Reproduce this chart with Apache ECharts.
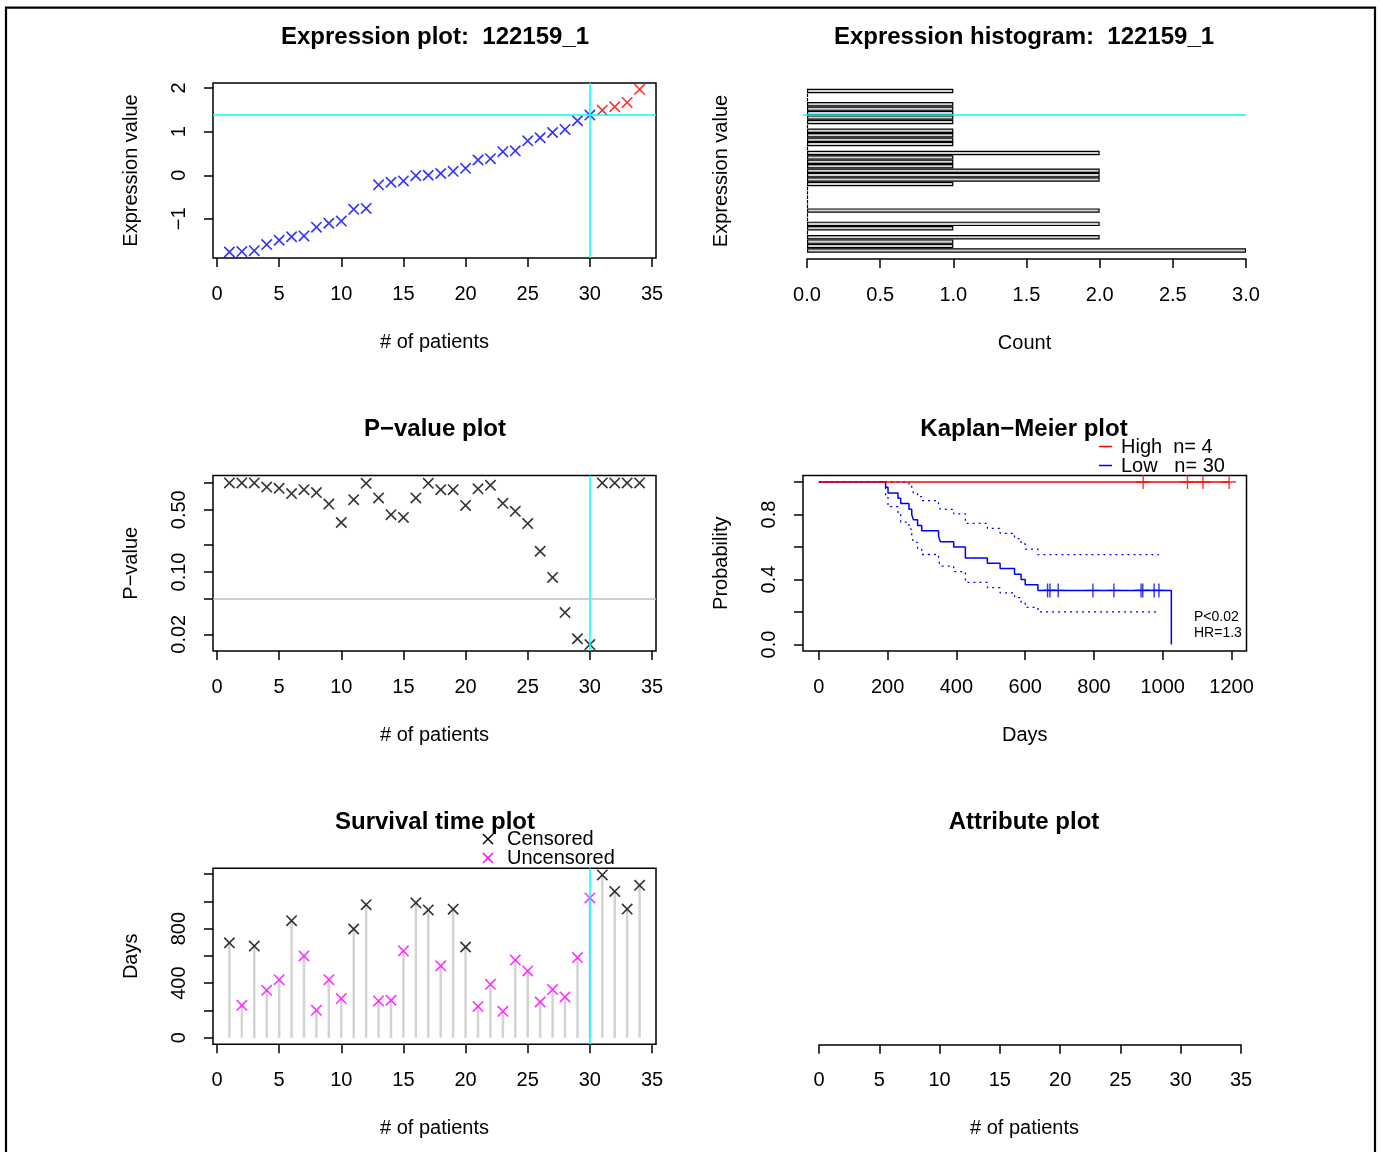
<!DOCTYPE html>
<html>
<head>
<meta charset="utf-8">
<script src="https://cdn.jsdelivr.net/npm/echarts@6/dist/echarts.min.js"></script>
<style>
  html, body { margin: 0; padding: 0; background: #fff; }
  #chart { width: 1383px; height: 1152px; }
</style>
</head>
<body>
<div id="chart"></div>
<script>
// ---- data -------------------------------------------------------------
// expression of probe 122159_1 for 34 patients, sorted ascending
const exprValues = [-1.76, -1.75, -1.73, -1.59, -1.49, -1.41, -1.39, -1.19, -1.10, -1.05,
                    -0.78, -0.76, -0.22, -0.16, -0.13, -0.01, 0.00, 0.04, 0.09, 0.16,
                    0.35, 0.38, 0.54, 0.56, 0.79, 0.86, 0.98, 1.05, 1.25, 1.38,
                    1.49, 1.57, 1.67, 1.97];
// patients 1..cutoffPatient form the "Low" group, the rest "High"
const cutoffPatient = 30;

// log-rank p-value for every possible cut point
const pValues = [1.0, 1.0, 1.0, 0.90, 0.87, 0.76, 0.84, 0.78, 0.58, 0.36,
                 0.65, 0.99, 0.68, 0.44, 0.41, 0.68, 0.99, 0.84, 0.84, 0.56,
                 0.86, 0.94, 0.59, 0.48, 0.35, 0.171, 0.087, 0.035, 0.0178, 0.0153,
                 1.0, 1.0, 1.0, 1.0];
const pThreshold = 0.05;

// histogram counts per expression bin, lowest bin first
const histCounts = [3, 1, 1, 2, 0, 1, 2, 0, 0, 2, 0, 0, 0, 0, 0, 1, 2, 2, 2, 1,
                    1, 1, 2, 0, 1, 1, 1, 1, 0, 1, 1, 1, 1, 1, 0, 0, 1];

// survival time (days) and censoring flag (1 = censored) per patient
const survDays = [696, 238, 672, 348, 426, 858, 600, 201, 426, 287,
                  797, 975, 270, 275, 637, 989, 937, 527, 942, 665,
                  230, 392, 194, 569, 490, 262, 353, 299, 588, 1025,
                  1193, 1072, 943, 1117];
const survCensored = [1, 0, 1, 0, 0, 1, 0, 0, 0, 0,
                      1, 1, 0, 0, 0, 1, 1, 0, 1, 1,
                      0, 0, 0, 0, 0, 0, 0, 0, 0, 0,
                      1, 1, 1, 1];

// Kaplan-Meier estimate and 95% band for the Low group
const kmLowTime  = [0, 194, 201, 230, 238, 262, 270, 275, 287, 299, 348, 353, 392, 426, 490, 527, 569, 588, 600, 637, 1025];
const kmLowSurv  = [1, 0.967, 0.933, 0.900, 0.867, 0.833, 0.800, 0.767, 0.733, 0.700, 0.667, 0.633, 0.600, 0.533, 0.500, 0.467, 0.433, 0.400, 0.367, 0.333, 0];
const kmLowUpper = [1, 1, 1, 1, 0.997, 0.978, 0.957, 0.934, 0.910, 0.885, 0.859, 0.832, 0.804, 0.745, 0.715, 0.684, 0.652, 0.620, 0.587, 0.553];
const kmLowLower = [1, 0.905, 0.848, 0.799, 0.753, 0.710, 0.669, 0.629, 0.591, 0.554, 0.518, 0.482, 0.448, 0.382, 0.350, 0.318, 0.288, 0.258, 0.229, 0.201];
// High group: no events, survival stays at 1
const kmHighTime = [0, 1193];
const kmHighSurv = [1, 1];
const kmPText = 'P<0.02';
const kmHRText = 'HR=1.3';

// tick values
const patientTicks = [0, 5, 10, 15, 20, 25, 30, 35];
const exprTicks = [-1, 0, 1, 2];
const countTicks = [0, 0.5, 1, 1.5, 2, 2.5, 3];
const pTicks = [0.02, 0.05, 0.1, 0.2, 0.5, 1];
const pLabels = [0.02, 0.1, 0.5];
const probTicks = [0, 0.2, 0.4, 0.6, 0.8, 1];
const probLabels = [0, 0.4, 0.8];
const kmDayTicks = [0, 200, 400, 600, 800, 1000, 1200];
const dayTicks = [0, 200, 400, 600, 800, 1000, 1200];
const dayLabels = [0, 400, 800];

// ---- derived series -----------------------------------------------------
const nLow = cutoffPatient;
const nHigh = exprValues.length - cutoffPatient;
const threshold = exprValues[cutoffPatient - 1];

function stepValue(times, surv, t) {
  let s = surv[0];
  for (let i = 0; i < times.length; i++) if (times[i] <= t) s = surv[i];
  return s;
}
const lowCensorTimes = survDays.filter((d, i) => i < cutoffPatient && survCensored[i] === 1);
const highCensorTimes = survDays.filter((d, i) => i >= cutoffPatient && survCensored[i] === 1);
const bandEnd = Math.max.apply(null, lowCensorTimes);
const nBand = kmLowUpper.length;
const upperBand = kmLowUpper.map((v, i) => [kmLowTime[i], v]).concat([[bandEnd, kmLowUpper[nBand - 1]]]);
const lowerBand = kmLowLower.map((v, i) => [kmLowTime[i], v]).concat([[bandEnd, kmLowLower[nBand - 1]]]);

// ---- styling helpers -----------------------------------------------------
const FONT = 'Liberation Sans';
const CROSS = 'path://M0,10L10,0L100,90L90,100Z M90,0L100,10L10,100L0,90Z';
const PLUS = 'path://M45,0H55V45H100V55H55V100H45V55H0V45H45Z';
const txt = { fontFamily: FONT, fontSize: 20, color: '#000' };

function tick(values) {
  return { show: true, inside: false, length: 9, customValues: values, lineStyle: { color: '#000', width: 1.5 } };
}
function xAxisFor(grid, min, max, ticks, labels, name, fmt, showLine) {
  return {
    type: 'value', gridIndex: grid, min: min, max: max, position: 'bottom',
    name: name, nameLocation: 'middle', nameGap: 74, nameTextStyle: txt,
    axisLine: { show: !!showLine, onZero: false, lineStyle: { color: '#000', width: 1.5 } },
    axisTick: tick(ticks),
    axisLabel: Object.assign({ customValues: labels, margin: 26, formatter: fmt }, txt),
    splitLine: { show: false }
  };
}
// axis that only carries a centred title under a panel
function nameOnlyX(grid, name) {
  return {
    type: 'value', gridIndex: grid, min: 0, max: 1, position: 'bottom',
    name: name, nameLocation: 'middle', nameGap: 74, nameTextStyle: txt,
    axisLine: { show: false, onZero: false }, axisTick: { show: false },
    axisLabel: { show: false }, splitLine: { show: false }
  };
}
function yAxisFor(grid, type, min, max, ticks, labels, name, fmt) {
  return {
    type: type, gridIndex: grid, min: min, max: max, position: 'left',
    name: name, nameLocation: 'middle', nameGap: 72, nameTextStyle: txt,
    axisLine: { show: false, onZero: false },
    axisTick: tick(ticks),
    axisLabel: Object.assign({ customValues: labels, margin: 24, rotate: 90, formatter: fmt }, txt),
    splitLine: { show: false }
  };
}
const hidden = (grid, type, min, max) => ({ type: type, gridIndex: grid, min: min, max: max, show: false });
const box = { show: true, borderColor: '#000', borderWidth: 1.5, backgroundColor: 'transparent' };
const cyanLine = { color: '#00ffff', width: 1.5, type: 'solid' };
const intFmt = v => String(Math.round(v));
const minusFmt = v => (v < 0 ? '\u2212' : '') + Math.abs(v);

function titleAt(text, x, y) {
  return { text: text, left: x, top: y, textAlign: 'center', padding: 0,
           textStyle: { fontFamily: FONT, fontSize: 24, fontWeight: 'bold', color: '#000' } };
}

const option = {
  animation: false,
  backgroundColor: '#fff',
  title: [
    titleAt('Expression plot:  122159_1', 435, 25),
    titleAt('Expression histogram:  122159_1', 1024, 25),
    titleAt('P\u2212value plot', 435, 417),
    titleAt('Kaplan\u2212Meier plot', 1024, 417),
    titleAt('Survival time plot', 435, 810),
    titleAt('Attribute plot', 1024, 810)
  ],
  grid: [
    Object.assign({ left: 213, top: 83, width: 443, height: 175 }, box),          // 0 expression
    { left: 807, top: 88.7, width: 439, height: 164, show: false },              // 1 histogram bars
    { left: 807, top: 83, width: 439, height: 176, show: false },                // 2 histogram x axis
    { left: 803, top: 83, width: 443, height: 176, show: false },                // 3 histogram threshold + titles
    Object.assign({ left: 213, top: 475.5, width: 443, height: 175.5 }, box),    // 4 p-value
    Object.assign({ left: 803, top: 475.5, width: 443.5, height: 175.5 }, box),  // 5 Kaplan-Meier
    Object.assign({ left: 213, top: 868.3, width: 443, height: 176 }, box),      // 6 survival time
    { left: 819, top: 868.3, width: 422, height: 176.5, show: false },           // 7 attribute axis
    { left: 803, top: 868.3, width: 443, height: 176.5, show: false }            // 8 attribute title
  ],
  xAxis: [
    xAxisFor(0, -0.32, 35.32, patientTicks, patientTicks, '# of patients', intFmt),
    hidden(1, 'value', 0, 3),
    xAxisFor(2, 0, 3, countTicks, countTicks, '', v => v.toFixed(1), true),
    nameOnlyX(3, 'Count'),
    xAxisFor(4, -0.32, 35.32, patientTicks, patientTicks, '# of patients', intFmt),
    xAxisFor(5, -46.2, 1243.6, kmDayTicks, kmDayTicks, 'Days', intFmt),
    xAxisFor(6, -0.32, 35.32, patientTicks, patientTicks, '# of patients', intFmt),
    xAxisFor(7, 0, 35, patientTicks, patientTicks, '', intFmt, true),
    nameOnlyX(8, '# of patients')
  ],
  yAxis: [
    yAxisFor(0, 'value', -1.897, 2.115, exprTicks, exprTicks, 'Expression value', minusFmt),
    { type: 'category', gridIndex: 1, data: histCounts.map((c, i) => i), show: false },
    hidden(2, 'value', 0, 1),
    { type: 'value', gridIndex: 3, min: -1.897 - 1 / 175 * 4.012, max: 2.115, name: 'Expression value',
      nameLocation: 'middle', nameGap: 72, nameTextStyle: txt,
      axisLine: { show: false, onZero: false }, axisTick: { show: false }, axisLabel: { show: false }, splitLine: { show: false } },
    yAxisFor(4, 'log', 0.01297, 1.213, pTicks, pLabels, 'P\u2212value', v => v.toFixed(2)),
    yAxisFor(5, 'value', -0.04, 1.04, probTicks, probLabels, 'Probability', v => v.toFixed(1)),
    yAxisFor(6, 'value', -47.8, 1241.8, dayTicks, dayLabels, 'Days', intFmt),
    hidden(7, 'value', 0, 1),
    hidden(8, 'value', 0, 1)
  ],
  series: [
    // expression plot
    {
      type: 'scatter', xAxisIndex: 0, yAxisIndex: 0, symbol: CROSS, symbolSize: 11.5,
      itemStyle: { color: '#0000ff' },
      data: exprValues.slice(0, cutoffPatient).map((v, i) => [i + 1, v]),
      markLine: { silent: true, symbol: 'none', label: { show: false }, lineStyle: cyanLine,
                  data: [{ xAxis: cutoffPatient }, { yAxis: threshold }] }
    },
    {
      type: 'scatter', xAxisIndex: 0, yAxisIndex: 0, symbol: CROSS, symbolSize: 11.5,
      itemStyle: { color: '#ff0000' },
      data: exprValues.slice(cutoffPatient).map((v, i) => [cutoffPatient + i + 1, v])
    },
    // expression histogram (empty bins collapse to an outline on the zero line)
    {
      type: 'bar', xAxisIndex: 1, yAxisIndex: 1, barCategoryGap: '0%', barMinHeight: 1, silent: true,
      itemStyle: { color: '#d3d3d3', borderColor: '#000', borderWidth: 1.2 },
      data: histCounts
    },
    {
      type: 'line', xAxisIndex: 3, yAxisIndex: 3, symbol: 'none', silent: true,
      lineStyle: cyanLine, data: [[0, threshold], [1, threshold]]
    },
    // p-value plot
    {
      type: 'scatter', xAxisIndex: 4, yAxisIndex: 4, symbol: CROSS, symbolSize: 11.5,
      itemStyle: { color: '#000' },
      data: pValues.map((p, i) => [i + 1, p]),
      markLine: { silent: true, symbol: 'none', label: { show: false }, lineStyle: cyanLine,
                  data: [{ xAxis: cutoffPatient },
                         { yAxis: pThreshold, lineStyle: { color: '#bebebe', width: 1.5, type: 'solid' } }] }
    },
    // Kaplan-Meier plot
    {
      type: 'line', xAxisIndex: 5, yAxisIndex: 5, step: 'end', symbol: 'none', silent: true,
      lineStyle: { color: '#0000ff', width: 1.3, type: [2, 4] }, data: upperBand
    },
    {
      type: 'line', xAxisIndex: 5, yAxisIndex: 5, step: 'end', symbol: 'none', silent: true,
      lineStyle: { color: '#0000ff', width: 1.3, type: [2, 4] }, data: lowerBand
    },
    {
      type: 'line', xAxisIndex: 5, yAxisIndex: 5, step: 'end', symbol: 'none', silent: true,
      lineStyle: { color: '#0000ff', width: 1.5 }, data: kmLowTime.map((t, i) => [t, kmLowSurv[i]])
    },
    {
      type: 'scatter', xAxisIndex: 5, yAxisIndex: 5, symbol: PLUS, symbolSize: 14, silent: true,
      itemStyle: { color: '#0000ff' },
      data: lowCensorTimes.map(t => [t, stepValue(kmLowTime, kmLowSurv, t)])
    },
    {
      type: 'line', xAxisIndex: 5, yAxisIndex: 5, step: 'end', symbol: 'none', silent: true,
      lineStyle: { color: '#ff0000', width: 1.5 }, data: kmHighTime.map((t, i) => [t, kmHighSurv[i]])
    },
    {
      type: 'scatter', xAxisIndex: 5, yAxisIndex: 5, symbol: PLUS, symbolSize: 14, silent: true,
      itemStyle: { color: '#ff0000' },
      data: highCensorTimes.map(t => [t, stepValue(kmHighTime, kmHighSurv, t)])
    },
    // survival time plot
    {
      type: 'bar', xAxisIndex: 6, yAxisIndex: 6, barWidth: 2.5, silent: true,
      itemStyle: { color: '#d3d3d3' },
      data: survDays.map((d, i) => [i + 1, d]),
      markLine: { silent: true, symbol: 'none', label: { show: false }, lineStyle: cyanLine,
                  data: [{ xAxis: cutoffPatient }] }
    },
    {
      type: 'scatter', xAxisIndex: 6, yAxisIndex: 6, symbol: CROSS, symbolSize: 11.5,
      itemStyle: { color: '#000' },
      data: survDays.map((d, i) => [i + 1, d]).filter((p, i) => survCensored[i] === 1)
    },
    {
      type: 'scatter', xAxisIndex: 6, yAxisIndex: 6, symbol: CROSS, symbolSize: 11.5,
      itemStyle: { color: '#ff00ff' },
      data: survDays.map((d, i) => [i + 1, d]).filter((p, i) => survCensored[i] === 0)
    }
  ],
  graphic: [
    // page frame
    { type: 'polyline', silent: true, shape: { points: [[6, 1152], [6, 7.7], [1375, 7.7], [1375, 1152]] },
      style: { stroke: '#000', lineWidth: 2.2, fill: null } },
    // Kaplan-Meier legend
    { type: 'line', silent: true, shape: { x1: 1099, y1: 446.5, x2: 1112, y2: 446.5 }, style: { stroke: '#ff0000', lineWidth: 1.5 } },
    { type: 'text', silent: true, x: 1121, y: 447,
      style: { text: 'High  n= ' + nHigh, fontFamily: FONT, fontSize: 20, fill: '#000', verticalAlign: 'middle' } },
    { type: 'line', silent: true, shape: { x1: 1099, y1: 465.5, x2: 1112, y2: 465.5 }, style: { stroke: '#0000ff', lineWidth: 1.5 } },
    { type: 'text', silent: true, x: 1121, y: 466,
      style: { text: 'Low   n= ' + nLow, fontFamily: FONT, fontSize: 20, fill: '#000', verticalAlign: 'middle' } },
    { type: 'text', silent: true, x: 1194, y: 617,
      style: { text: kmPText, fontFamily: FONT, fontSize: 14, fill: '#000', verticalAlign: 'middle' } },
    { type: 'text', silent: true, x: 1194, y: 633,
      style: { text: kmHRText, fontFamily: FONT, fontSize: 14, fill: '#000', verticalAlign: 'middle' } },
    // survival time legend
    { type: 'line', silent: true, shape: { x1: 483, y1: 834, x2: 493, y2: 844 }, style: { stroke: '#000', lineWidth: 1.5 } },
    { type: 'line', silent: true, shape: { x1: 483, y1: 844, x2: 493, y2: 834 }, style: { stroke: '#000', lineWidth: 1.5 } },
    { type: 'text', silent: true, x: 507, y: 839,
      style: { text: 'Censored', fontFamily: FONT, fontSize: 20, fill: '#000', verticalAlign: 'middle' } },
    { type: 'line', silent: true, shape: { x1: 483, y1: 853, x2: 493, y2: 863 }, style: { stroke: '#ff00ff', lineWidth: 1.5 } },
    { type: 'line', silent: true, shape: { x1: 483, y1: 863, x2: 493, y2: 853 }, style: { stroke: '#ff00ff', lineWidth: 1.5 } },
    { type: 'text', silent: true, x: 507, y: 858,
      style: { text: 'Uncensored', fontFamily: FONT, fontSize: 20, fill: '#000', verticalAlign: 'middle' } }
  ]
};

const chart = echarts.init(document.getElementById('chart'), null, { renderer: 'canvas' });
chart.setOption(option);
</script>
</body>
</html>
